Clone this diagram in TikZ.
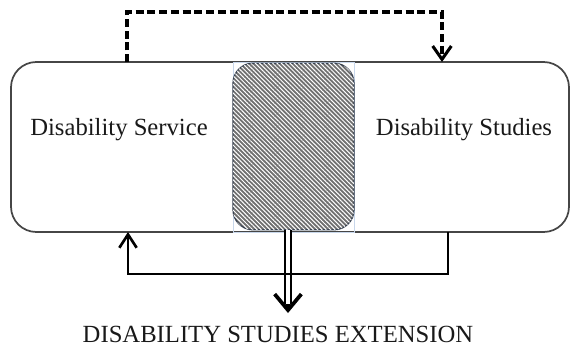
\documentclass[tikz,border=0pt]{standalone}
\usepackage{fontspec}
\setmainfont{Liberation Serif}
\usetikzlibrary{arrows.meta,patterns.meta}

\tikzset{
  program/.style={draw={rgb,255:red,70;green,70;blue,70}, line width=1.3pt, rounded corners=19pt,
    minimum width=418.5pt, minimum height=127.5pt, inner sep=0pt, outer sep=0pt},
  overlap/.style={draw={rgb,255:red,55;green,65;blue,80}, line width=0.9pt, rounded corners=15pt,
    fill={rgb,255:red,112;green,112;blue,112},
    postaction={pattern={Lines[angle=-45,distance=2.3pt,line width=0.75pt]}, pattern color=white},
    minimum width=90.75pt, minimum height=125pt, inner sep=0pt, outer sep=0pt},
  label/.style={font=\fontsize{18.5}{22}\selectfont, text={rgb,255:red,25;green,25;blue,25}, anchor=base, inner sep=0pt},
  dashlink/.style={line width=2.3pt, dash pattern=on 6pt off 2.8pt, -{Straight Barb[length=10pt,width=14pt]}},
  solidlink/.style={line width=2pt, -{Straight Barb[length=10pt,width=13pt]}},
  dbllink/.style={double, line width=1.1pt, double distance=3.4pt},
}

\begin{document}
\begin{tikzpicture}[x=0.75pt,y=0.75pt,yscale=-1,xscale=1]
\useasboundingbox (0,0) rectangle (572,350);

% Outer rounded box
\node [program] (prog) at (290,147) {};
% Hatched overlap
\draw [color={rgb,255:red,200;green,215;blue,235}, line width=0.4pt] (233,62) rectangle (354,232);
\node [overlap] (ovl) at (293.5,146.5) {};

% Text Node
\node [label] (srv) at (119,135) {Disability Service};
% Text Node
\node [label] (std) at (464,135) {Disability Studies};
% Text Node
\node [label] (ext) at (278,342) {DISABILITY STUDIES EXTENSION};

% connector ends
\coordinate (srvtop) at (127,62);
\coordinate (stdtop) at (442,62);
\coordinate (srvbot) at (128,232);
\coordinate (stdbot) at (448,232);
\coordinate (extend) at (288,304);
\coordinate (exttip) at (288,313);

% dashed link over the top
\draw [dashlink] (srvtop) -- ++(0,-50) -| (stdtop);
% double link down to the extension
\draw [dbllink] (ovl.south -| exttip) -- (extend);
\draw [line width=2.8pt, -{Straight Barb[length=12pt,width=20pt]}] (extend) -- (exttip);
% loop underneath
\draw [solidlink] (stdbot) -- ++(0,42) -| (srvbot);

\end{tikzpicture}
\end{document}
